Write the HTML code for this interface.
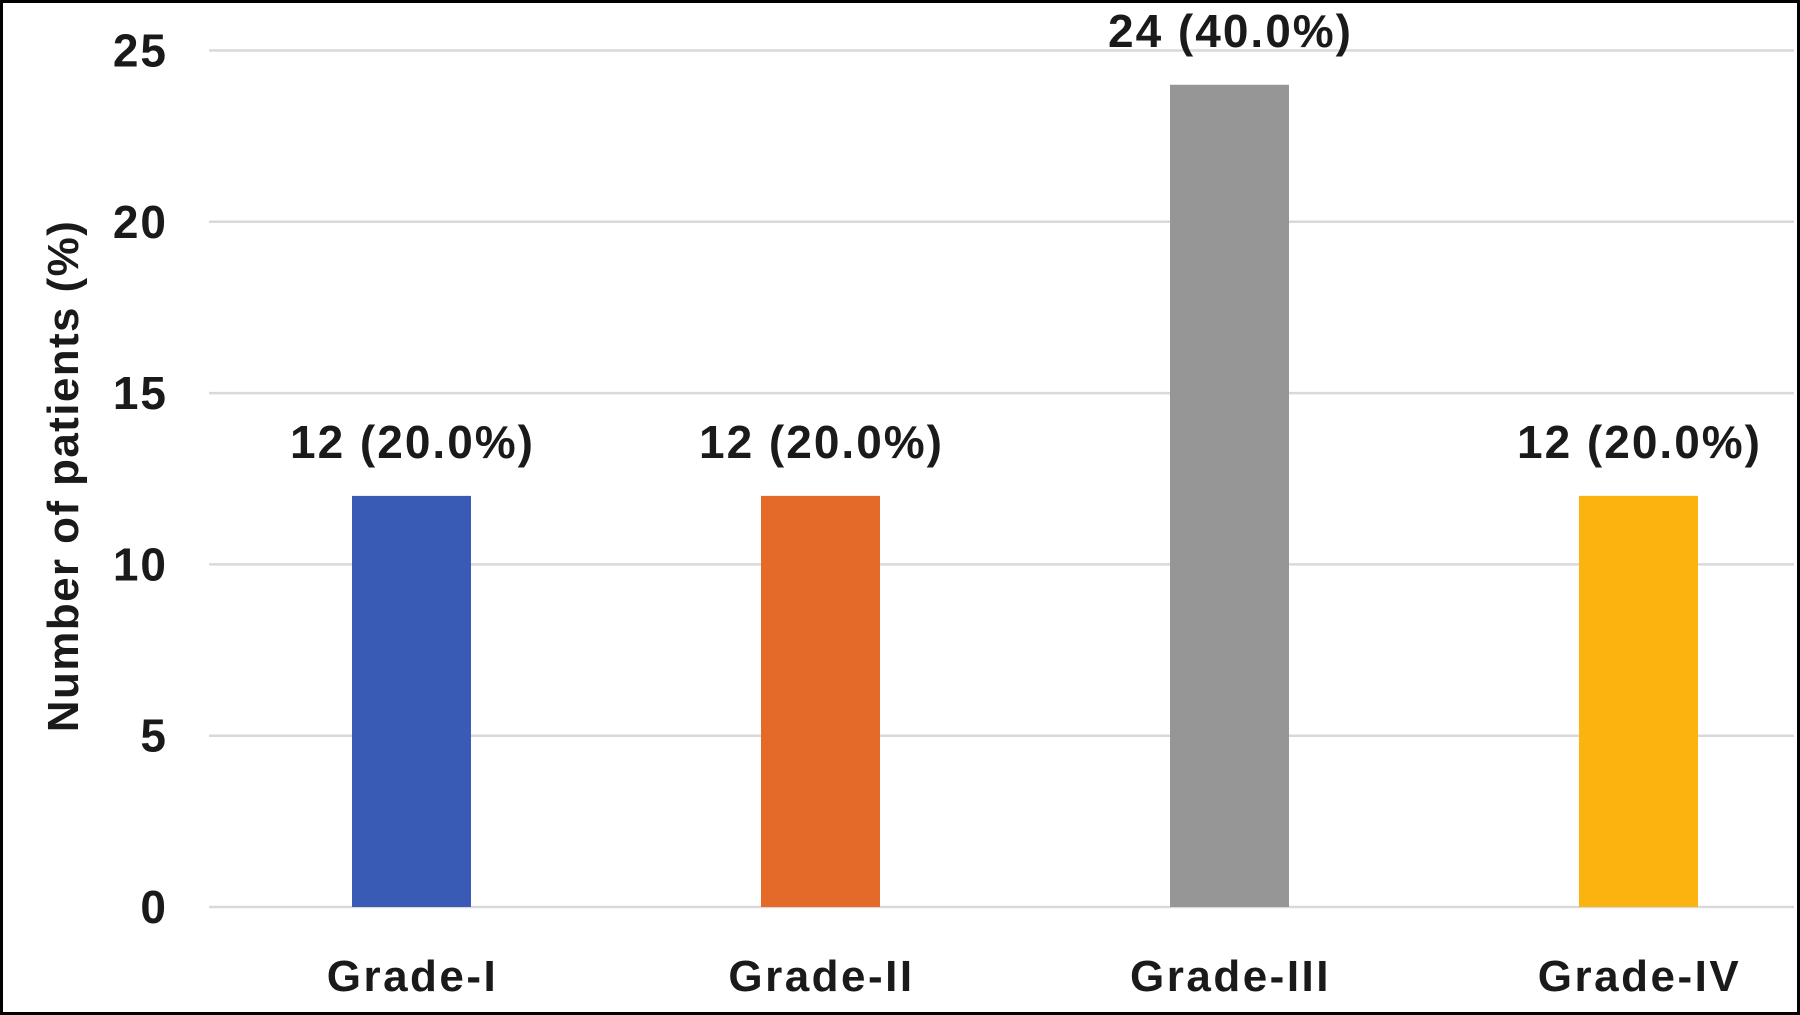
<!DOCTYPE html>
<html><head><meta charset="utf-8"><style>
html,body{margin:0;padding:0;background:#fff;}
svg{display:block;}
text{font-family:"Liberation Sans",sans-serif;font-weight:bold;fill:#1a1a1a;}
</style></head><body>
<svg id="chart" width="1800" height="1015" viewBox="0 0 1800 1015" xmlns="http://www.w3.org/2000/svg">
<rect x="1.5" y="1.5" width="1797" height="1012" fill="#fff" stroke="#000" stroke-width="3"/>
<g id="grid"></g>
<g id="yticks"></g>
<g id="bars"></g>
<g id="xlabels"></g>
<text transform="translate(78,476) rotate(-90)" text-anchor="middle" font-size="44" letter-spacing="1.4">Number of patients (%)</text>
</svg>
<script>
const categories = ["Grade-I","Grade-II","Grade-III","Grade-IV"];
const values = [12,12,24,12];
const valueLabels = ["12 (20.0%)","12 (20.0%)","24 (40.0%)","12 (20.0%)"];
const yTicks = [0,5,10,15,20,25];
const colors = ["#3a5bb5","#e36a28","#969696","#fbb40f"];

const NS="http://www.w3.org/2000/svg";
const y0=907, yTop=50.5, yMax=25;
const xStart=207, step=409, barW=119, gridL=209, gridR=1794;
function yScale(v){return y0-(v/yMax)*(y0-yTop);}
function xCenter(i){return xStart+step*(i+0.5);}
function mk(tag,attrs,parent){const e=document.createElementNS(NS,tag);for(const k in attrs)e.setAttribute(k,attrs[k]);parent.appendChild(e);return e;}
const grid=document.getElementById('grid'),yt=document.getElementById('yticks'),bars=document.getElementById('bars'),xl=document.getElementById('xlabels');
yTicks.forEach(t=>{
  const l=mk('line',{x1:gridL,x2:gridR,y1:yScale(t),y2:yScale(t),stroke:'#d9d9d9','stroke-width':2.5},grid);
  
  
  const tx=mk('text',{x:168,y:yScale(t)+16,'text-anchor':'end','font-size':46,'letter-spacing':2},yt);
  tx.textContent=t;
  
  
});
categories.forEach((c,i)=>{
  const cx=xCenter(i);
  const r=mk('rect',{x:cx-barW/2,y:yScale(values[i]),width:barW,height:y0-yScale(values[i]),fill:colors[i]},bars);
  
  
  const vl=mk('text',{x:cx+1,y:yScale(values[i])-38,'text-anchor':'middle','font-size':46,'letter-spacing':2},bars);
  vl.textContent=valueLabels[i];
  
  
  const xt=mk('text',{x:cx+1,y:991,'text-anchor':'middle','font-size':44,'letter-spacing':2.5},xl);
  xt.textContent=c;
  
  
});
</script>
</body></html>
